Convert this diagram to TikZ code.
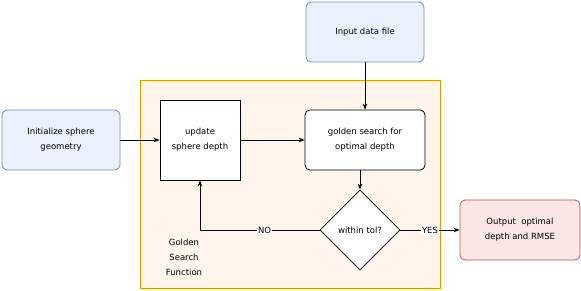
\documentclass[tikz,border=0pt]{standalone}
\usepackage{fontspec}
\setmainfont{DejaVu Sans}
\usetikzlibrary{arrows.meta,shapes.geometric}
\definecolor{blueline}{HTML}{6C8EBF}
\definecolor{bluefill}{HTML}{EAF1FC}
\definecolor{orangeline}{HTML}{D79B00}
\definecolor{orangefill}{HTML}{FFF4EA}
\definecolor{redline}{HTML}{B85450}
\definecolor{redfill}{HTML}{FBE6E6}

\begin{document}
\begin{tikzpicture}[x=1pt, y=-1pt,
  every node/.style={font=\fontsize{8.5}{15}\selectfont, align=center},
  flow/.style={-{Stealth[length=6pt]}, line width=0.8pt},
  inbox/.style={draw=blueline, fill=bluefill, line width=0.8pt, rounded corners=5pt,
    minimum width=118pt, minimum height=60pt},
  outbox/.style={draw=redline, fill=redfill, line width=0.8pt, rounded corners=5pt,
    minimum width=120pt, minimum height=60pt},
  stepbox/.style={draw, fill=white, line width=0.8pt, minimum width=80pt, minimum height=80pt},
  searchbox/.style={draw, fill=white, line width=0.8pt, rounded corners=5pt,
    minimum width=120pt, minimum height=60pt},
  check/.style={draw, fill=white, line width=0.8pt, diamond, inner sep=0pt,
    minimum width=80pt, minimum height=80pt},
  tag/.style={fill=white, inner sep=1pt}]
\useasboundingbox (0,0) rectangle (581,291);

% Golden search container
\draw[draw=orangeline, fill=orangefill, line width=0.8pt] (140,80) rectangle (440,288);
\node (gsf) at (184,257) {Golden\\Search\\Function};

% Boxes
\node[inbox] (init) at (61,140) {Initialize sphere\\geometry};
\node[inbox] (input) at (365,32) {Input data file};
\node[stepbox] (update) at (200,140) {update\\sphere depth};
\node[searchbox] (golden) at (365,140) {golden search for\\optimal depth};
\node[check] (tol) at (360,230) {within tol?};
\node[outbox] (output) at (520,230) {Output\ \ optimal\\depth and RMSE};

% Arrows
\draw[flow] (init) -- (update);
\draw[flow] (update) -- (golden);
\draw[flow] (input) -- (golden);
\draw[flow] (tol.north |- golden.south) -- (tol);
\draw[flow] (tol.west) -| node[tag, pos=0.23] {NO} (update.south);
\draw[flow] (tol.east) -- node[tag, pos=0.5] {YES} (output.west);

\end{tikzpicture}
\end{document}
